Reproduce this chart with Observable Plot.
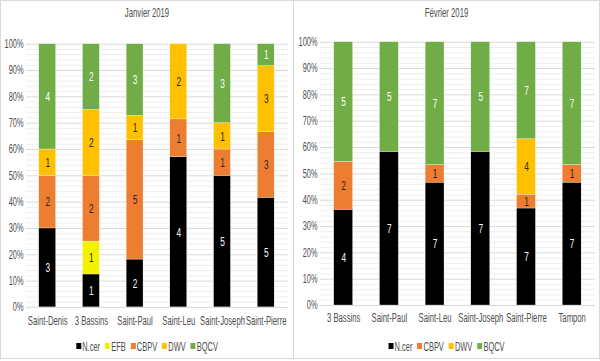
<!DOCTYPE html>
<html>
<head>
<meta charset="utf-8">
<script src="https://cdn.jsdelivr.net/npm/d3@7"></script>
<script src="https://cdn.jsdelivr.net/npm/@observablehq/plot@0.6"></script>
<style>
  html, body { margin: 0; padding: 0; background: #fff; }
  body { width: 600px; height: 361px; position: relative; overflow: hidden;
         font-family: "Liberation Sans", Arial, sans-serif; color: #4d4d4d; }
  .panel { position: absolute; top: 0; height: 359px; border: 1px solid #d9d9d9; box-sizing: border-box; }
  .title { position: absolute; top: 5px; left: 0; right: 0; text-align: center; font-size: 12.5px; color: #4d4d4d; transform: scaleX(0.62); transform-origin: center; }
  .legend { position: absolute; top: 339px; left: 0; right: 0; text-align: center; font-size: 12px; color: #4d4d4d; white-space: nowrap; transform: scaleX(0.62); transform-origin: center; }
  .legend span.item { margin: 0 4px; }
  .legend span.sw { display: inline-block; width: 8px; height: 6px; margin-right: 2px; vertical-align: 2px; }
  svg { position: absolute; top: 0; left: 0; }
  svg text { -webkit-font-smoothing: antialiased; }
</style>
</head>
<body>
<script>
// ---- Data ----
const seriesAll = ["N.cer", "EFB", "CBPV", "DWV", "BQCV"];
const seriesColors = ["#000000", "#f2f200", "#ed7d31", "#ffc000", "#70ad47"];
const labelColors = ["#ffffff", "#262626", "#262626", "#262626", "#ffffff"];

const janvierTitle = "Janvier 2019";
const janvierSites = ["Saint-Denis", "3 Bassins", "Saint-Paul", "Saint-Leu", "Saint-Joseph", "Saint-Pierre"];
const janvierNcer = [3, 1, 2, 4, 5, 5];
const janvierEFB  = [0, 1, 0, 0, 0, 0];
const janvierCBPV = [2, 2, 5, 1, 1, 3];
const janvierDWV  = [1, 2, 1, 2, 1, 3];
const janvierBQCV = [4, 2, 3, 0, 3, 1];

const fevrierTitle = "Février 2019";
const fevrierSites = ["3 Bassins", "Saint-Paul", "Saint-Leu", "Saint-Joseph", "Saint-Pierre", "Tampon"];
const fevrierNcer = [4, 7, 7, 7, 7, 7];
const fevrierCBPV = [2, 0, 1, 0, 1, 1];
const fevrierDWV  = [0, 0, 0, 0, 4, 0];
const fevrierBQCV = [5, 5, 7, 5, 7, 7];

const yTicks = [0, 0.1, 0.2, 0.3, 0.4, 0.5, 0.6, 0.7, 0.8, 0.9, 1];
const yMinorTicks = d3.range(0, 101, 2).filter(v => v % 10 !== 0).map(v => v / 100);

const SQUEEZE = 0.62;

function buildRows(sites, seriesNames, arrays) {
  const rows = [];
  seriesNames.forEach((s, i) => {
    sites.forEach((site, j) => {
      if (arrays[i][j] > 0) rows.push({site, series: s, value: arrays[i][j]});
    });
  });
  return rows;
}

// narrow every SVG text horizontally around its anchor point (the reference font is condensed)
function squeezeTexts(svg, sx) {
  svg.querySelectorAll("text").forEach(t => {
    const b = t.getBBox();
    const anchor = getComputedStyle(t).textAnchor;
    const ax = anchor === "middle" ? b.x + b.width / 2 : anchor === "end" ? b.x + b.width : b.x;
    const tr = t.getAttribute("transform") || "";
    t.setAttribute("transform", `${tr} translate(${ax},0) scale(${sx},1) translate(${-ax},0)`);
  });
}

function panel({left, width, title, sites, seriesNames, arrays, top, bottom, xRange, padInner, svgH, tickPad}) {
  const div = document.createElement("div");
  div.className = "panel";
  div.style.left = left + "px";
  div.style.width = width + "px";
  document.body.appendChild(div);

  const rows = buildRows(sites, seriesNames, arrays);
  const colorOf = s => seriesColors[seriesAll.indexOf(s)];
  const labelOf = s => labelColors[seriesAll.indexOf(s)];

  const chart = Plot.plot({
    width: width,
    height: svgH,
    marginTop: top,
    marginBottom: svgH - bottom,
    marginLeft: xRange[0],
    marginRight: width - xRange[1],
    style: {fontFamily: '"Liberation Sans", Arial, sans-serif', color: "#4d4d4d", background: "transparent"},
    x: {domain: sites, range: xRange, paddingInner: padInner, paddingOuter: padInner / 2, label: null},
    y: {domain: [0, 1], label: null},
    marks: [
      Plot.ruleY(yMinorTicks, {stroke: "#eeeeee", strokeWidth: 1}),
      Plot.ruleY(yTicks, {stroke: "#d9d9d9", strokeWidth: 1}),
      Plot.barY(rows, Plot.stackY({
        x: "site", y: "value", z: "series", order: seriesNames, offset: "normalize",
        fill: d => colorOf(d.series), stroke: "#ffffff", strokeWidth: 0.3
      })),
      Plot.text(rows, Plot.stackY({
        x: "site", y: "value", z: "series", order: seriesNames, offset: "normalize",
        text: d => String(d.value), fill: d => labelOf(d.series), fontSize: 13.5, opacity: 0.99
      })),
      Plot.axisY(yTicks, {tickSize: 0, tickPadding: 3, tickFormat: d3.format(".0%"), fontSize: 12, fill: "#4d4d4d"}),
      Plot.axisX({tickSize: 0, tickPadding: tickPad, fontSize: 12.5, fill: "#4d4d4d"})
    ]
  });
  div.appendChild(chart);
  squeezeTexts(chart, SQUEEZE);

  const t = document.createElement("div");
  t.className = "title";
  t.textContent = title;
  div.appendChild(t);

  const lg = document.createElement("div");
  lg.className = "legend";
  seriesNames.forEach(s => {
    const item = document.createElement("span");
    item.className = "item";
    const sw = document.createElement("span");
    sw.className = "sw";
    sw.style.background = colorOf(s);
    item.appendChild(sw);
    item.appendChild(document.createTextNode(s));
    lg.appendChild(item);
  });
  div.appendChild(lg);
}

panel({
  left: 0, width: 294, title: janvierTitle, sites: janvierSites,
  seriesNames: ["N.cer", "EFB", "CBPV", "DWV", "BQCV"],
  arrays: [janvierNcer, janvierEFB, janvierCBPV, janvierDWV, janvierBQCV],
  top: 43, bottom: 308, xRange: [25, 289], padInner: 0.61, svgH: 335, tickPad: 9
});

panel({
  left: 293, width: 307, title: fevrierTitle, sites: fevrierSites,
  seriesNames: ["N.cer", "CBPV", "DWV", "BQCV"],
  arrays: [fevrierNcer, fevrierCBPV, fevrierDWV, fevrierBQCV],
  top: 41, bottom: 306, xRange: [26, 303], padInner: 0.59, svgH: 335, tickPad: 8
});
</script>
</body>
</html>
